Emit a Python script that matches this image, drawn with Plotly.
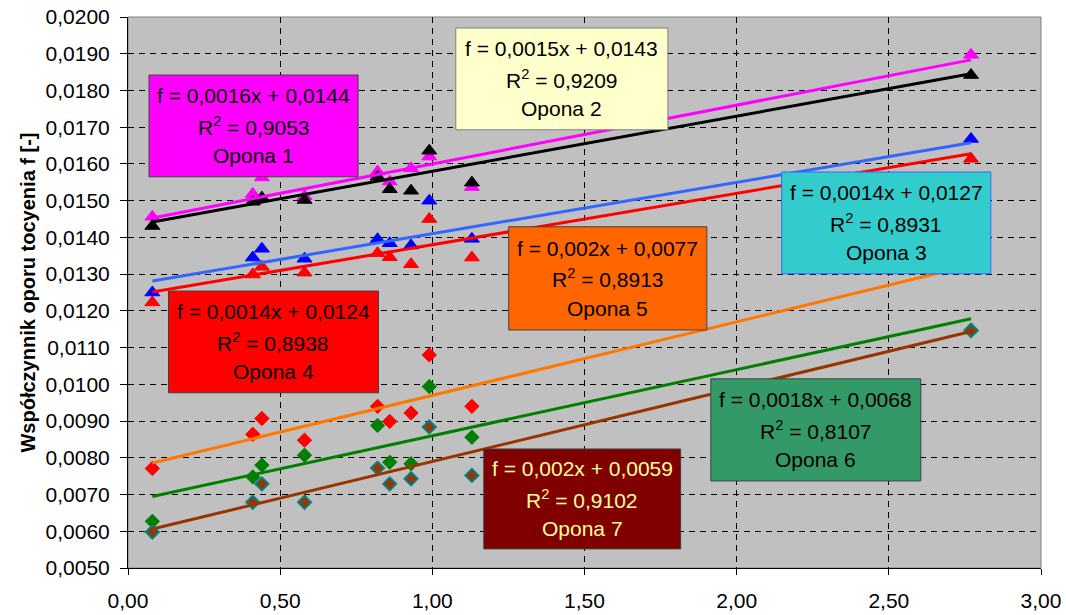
import plotly.graph_objects as go

# Prędkość (oś X) – wspólna dla wszystkich opon
x_vals = [0.08, 0.41, 0.44, 0.58, 0.82, 0.86, 0.93, 0.99, 1.13, 2.77]

# Współczynnik oporu toczenia dla kolejnych opon
opona_1 = [0.01456, 0.01518, 0.01563, 0.01512, 0.01579, 0.01552, 0.01588, 0.01620, 0.01537, 0.01897]
opona_2 = [0.01431, 0.01497, 0.01508, 0.01502, 0.01565, 0.01531, 0.01527, 0.01636, 0.01549, 0.01842]
opona_3 = [0.01250, 0.01345, 0.01369, 0.01342, 0.01395, 0.01384, 0.01378, 0.01500, 0.01396, 0.01668]
opona_4 = [0.01223, 0.01299, 0.01320, 0.01304, 0.01357, 0.01346, 0.01327, 0.01450, 0.01345, 0.01614]
opona_5 = [0.00771, 0.00864, 0.00907, 0.00848, 0.00940, 0.00899, 0.00922, 0.01080, 0.00940, 0.01340]
opona_6 = [0.00627, 0.00748, 0.00780, 0.00807, 0.00888, 0.00788, 0.00784, 0.00994, 0.00856, 0.01148]
opona_7 = [0.00598, 0.00679, 0.00729, 0.00679, 0.00772, 0.00729, 0.00743, 0.00884, 0.00752, 0.01146]

# Linie trendu: f = a*x + b oraz R^2
names = ["Opona 1", "Opona 2", "Opona 3", "Opona 4", "Opona 5", "Opona 6", "Opona 7"]
slopes = [0.0016, 0.0015, 0.0014, 0.0014, 0.002, 0.0018, 0.002]
intercepts = [0.0144, 0.0143, 0.0127, 0.0124, 0.0077, 0.0068, 0.0059]
r_squared = [0.9053, 0.9209, 0.8931, 0.8938, 0.8913, 0.8107, 0.9102]

series = [opona_1, opona_2, opona_3, opona_4, opona_5, opona_6, opona_7]

FONT = "Arial, Liberation Sans, sans-serif"

marker_style = [
    dict(symbol="triangle-up", size=13, color="#FF00FF", line=dict(color="#FF00FF", width=1)),
    dict(symbol="triangle-up", size=13, color="#000000", line=dict(color="#000000", width=1)),
    dict(symbol="triangle-up", size=13, color="#0000FF", line=dict(color="#0000FF", width=1)),
    dict(symbol="triangle-up", size=13, color="#FF0000", line=dict(color="#FF0000", width=1)),
    dict(symbol="diamond", size=11, color="#FF0000", line=dict(color="#FF0000", width=1)),
    dict(symbol="diamond", size=11, color="#008000", line=dict(color="#008000", width=1)),
    dict(symbol="diamond", size=10, color="#993300", line=dict(color="#008080", width=2)),
]
trend_colors = ["#FF00FF", "#000000", "#3366FF", "#FF0000", "#FF7700", "#008000", "#993300"]

# Ramki opisów linii trendu (współrzędne danych): x0, x1, y0, y1
boxes = [
    (0.069, 0.756, 0.01565, 0.01842),
    (1.077, 1.774, 0.01693, 0.01970),
    (2.148, 2.835, 0.01301, 0.01578),
    (0.133, 0.823, 0.00977, 0.01254),
    (1.251, 1.902, 0.01148, 0.01429),
    (1.915, 2.605, 0.00737, 0.01015),
    (1.169, 1.816, 0.00552, 0.00824),
]
box_fill = ["#FF00FF", "#FFFFCC", "#33CCCC", "#FF0000", "#FF6600", "#339966", "#800000"]
box_line = ["#404040", "#808080", "#3366FF", "#404040", "#404040", "#404040", "#404040"]
box_text = ["#000000", "#000000", "#000000", "#000000", "#000000", "#000000", "#FFFF99"]


def num(v, dec=4):
    s = f"{v:.{dec}f}".rstrip("0")
    return s.replace(".", ",")


fig = go.Figure()

draw_order = [0, 1, 3, 2, 4, 5, 6]
for i in draw_order:
    fig.add_trace(go.Scatter(
        x=x_vals, y=series[i], mode="markers", name=names[i],
        marker=marker_style[i], showlegend=False, cliponaxis=False,
    ))

x_lo, x_hi = min(x_vals), max(x_vals)
for i in range(7):
    fig.add_trace(go.Scatter(
        x=[x_lo, x_hi],
        y=[slopes[i] * x_lo + intercepts[i], slopes[i] * x_hi + intercepts[i]],
        mode="lines", line=dict(color=trend_colors[i], width=3),
        showlegend=False, hoverinfo="skip",
    ))

shapes = [dict(type="rect", xref="paper", yref="paper", x0=0, x1=1, y0=0, y1=1,
               line=dict(color="#808080", width=1), layer="below")]
annotations = []
for i in range(7):
    x0, x1, y0, y1 = boxes[i]
    shapes.append(dict(type="rect", xref="x", yref="y", x0=x0, x1=x1, y0=y0, y1=y1,
                       fillcolor=box_fill[i], line=dict(color=box_line[i], width=1),
                       layer="above"))
    cx, cy = (x0 + x1) / 2, (y0 + y1) / 2
    lines = [
        f"f = {num(slopes[i])}x + {num(intercepts[i])}",
        f"R<sup>2</sup> = {f'{r_squared[i]:.4f}'.replace('.', ',')}",
        names[i],
    ]
    for k, txt in enumerate(lines):
        annotations.append(dict(
            x=cx, y=cy, xref="x", yref="y", text=txt, showarrow=False,
            yshift=(1 - k) * 30, font=dict(family=FONT, size=21, color=box_text[i]),
            xanchor="center", yanchor="middle",
        ))

fig.update_layout(
    width=1066, height=615,
    margin=dict(l=128, r=25, t=17, b=47),
    paper_bgcolor="white", plot_bgcolor="#C0C0C0",
    separators=", ",
    font=dict(family=FONT, size=20, color="black"),
    shapes=shapes, annotations=annotations,
    showlegend=False,
)
fig.update_xaxes(
    range=[0, 3], dtick=0.5, tick0=0, tickformat=".2f", automargin=False,
    showgrid=True, gridcolor="black", gridwidth=1, griddash="6px,5px",
    showline=True, linecolor="black", linewidth=1, zeroline=False,
    ticks="outside", ticklen=6, tickcolor="black", ticklabelstandoff=8,
    tickfont=dict(family=FONT, size=21, color="black"),
)
fig.update_yaxes(
    range=[0.005, 0.020], dtick=0.001, tick0=0.005, tickformat=".4f", automargin=False,
    showgrid=True, gridcolor="black", gridwidth=1, griddash="6px,5px",
    showline=True, linecolor="black", linewidth=1, zeroline=False,
    ticks="outside", ticklen=7, tickcolor="black", ticklabelstandoff=6,
    tickfont=dict(family=FONT, size=21, color="black"),
    title=dict(text="<b>Współczynnik oporu tocyenia f [-]</b>", standoff=4,
               font=dict(family=FONT, size=20, color="black")),
)

fig.write_html("out.html")
